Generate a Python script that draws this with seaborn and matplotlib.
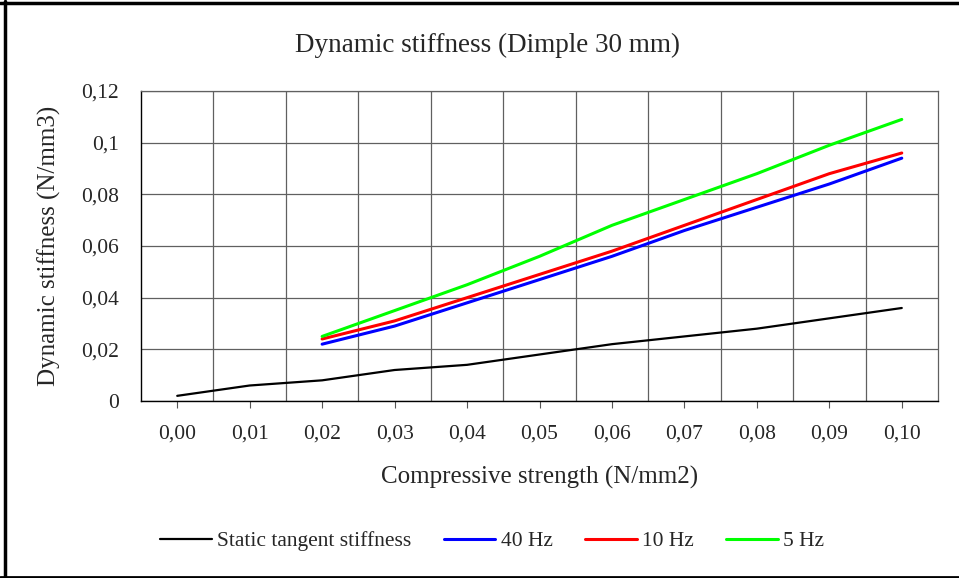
import numpy as np
import pandas as pd
import matplotlib
matplotlib.use('Agg')
import matplotlib.pyplot as plt
import seaborn as sns
from matplotlib.lines import Line2D
from matplotlib.ticker import FuncFormatter

sns.set_theme(style='white')
plt.rcParams['font.family'] = ['Liberation Serif', 'DejaVu Serif']

# Data
x_static = [0.00, 0.01, 0.02, 0.03, 0.04, 0.05, 0.06, 0.07, 0.08, 0.09, 0.10]
static_tangent = [0.002, 0.006, 0.008, 0.012, 0.014, 0.018, 0.022, 0.025, 0.028, 0.032, 0.036]

x_dyn = [0.02, 0.03, 0.04, 0.05, 0.06, 0.07, 0.08, 0.09, 0.10]
hz40 = [0.022, 0.029, 0.038, 0.047, 0.056, 0.066, 0.075, 0.084, 0.094]
hz10 = [0.024, 0.031, 0.040, 0.049, 0.058, 0.068, 0.078, 0.088, 0.096]
hz5 = [0.025, 0.035, 0.045, 0.056, 0.068, 0.078, 0.088, 0.099, 0.109]

series_names = ['Static tangent stiffness', '40 Hz', '10 Hz', '5 Hz']
colors = ['#000000', '#0000FF', '#FF0000', '#00FF00']
widths = [1.6, 2.2, 2.2, 2.2]

df = pd.concat([
    pd.DataFrame({'x': x_static, 'y': static_tangent, 'series': series_names[0]}),
    pd.DataFrame({'x': x_dyn, 'y': hz40, 'series': series_names[1]}),
    pd.DataFrame({'x': x_dyn, 'y': hz10, 'series': series_names[2]}),
    pd.DataFrame({'x': x_dyn, 'y': hz5, 'series': series_names[3]}),
])

fig = plt.figure(figsize=(9.59, 5.78), dpi=100)
ax = fig.add_axes([141 / 959, 1 - 401 / 578, (938 - 141) / 959, (401 - 91) / 578])

for name, c, lw in zip(series_names, colors, widths):
    sub = df[df['series'] == name]
    sns.lineplot(data=sub, x='x', y='y', color=c, linewidth=lw, ax=ax, legend=False)

ax.set_xlim(-0.005, 0.105)
ax.set_ylim(0, 0.12)

xticks = np.round(np.arange(0, 0.101, 0.01), 2)
ax.set_xticks(xticks)
ax.set_xticklabels([f'{v:.2f}'.replace('.', ',') for v in xticks], fontsize=15.5)
ax.set_xticks(np.round(np.arange(0.005, 0.1, 0.01), 3), minor=True)
ax.set_yticks(np.round(np.arange(0, 0.121, 0.02), 2))
ax.yaxis.set_major_formatter(FuncFormatter(lambda v, p: ('%g' % round(v, 2)).replace('.', ',')))
ax.tick_params(axis='y', labelsize=15.5, length=0, pad=16)
ax.tick_params(axis='x', which='major', length=5, width=0.8, color='#555555', direction='out', pad=12, bottom=True)
ax.tick_params(axis='x', which='minor', length=0)

ax.grid(False)
ax.yaxis.grid(True, color='#606060', linewidth=0.9)
ax.xaxis.grid(True, which='minor', color='#606060', linewidth=0.9)
for side in ['top', 'right']:
    ax.spines[side].set_color('#606060')
    ax.spines[side].set_linewidth(0.9)
for side in ['left', 'bottom']:
    ax.spines[side].set_color('#000000')
    ax.spines[side].set_linewidth(1.0)

ax.set_xlabel('Compressive strength (N/mm2)', fontsize=18, labelpad=16)
ax.set_ylabel('Dynamic stiffness (N/mm3)', fontsize=18, labelpad=14)
fig.text(487 / 959, 1 - 45 / 578, 'Dynamic stiffness (Dimple 30 mm)', fontsize=19.5, ha='center', va='center')

handles = [Line2D([0], [0], color=c, linewidth=lw) for c, lw in zip(colors, widths)]
fig.legend(handles, series_names, loc='center', bbox_to_anchor=(492 / 959, 1 - 541 / 578),
           ncol=4, frameon=False, fontsize=15.5, handlelength=2.4, handletextpad=0.25, columnspacing=1.5)

# outer frame (left, top, bottom)
fig.add_artist(Line2D([4.5 / 959, 4.5 / 959], [0.5 / 578, 1 - 1 / 578], color='black', linewidth=2.5, transform=fig.transFigure))
fig.add_artist(Line2D([0, 1], [1 - 3 / 578, 1 - 3 / 578], color='black', linewidth=2.5, transform=fig.transFigure))
fig.add_artist(Line2D([0, 1], [1.5 / 578, 1.5 / 578], color='black', linewidth=2.0, transform=fig.transFigure))

fig.savefig('out.png', dpi=100)
